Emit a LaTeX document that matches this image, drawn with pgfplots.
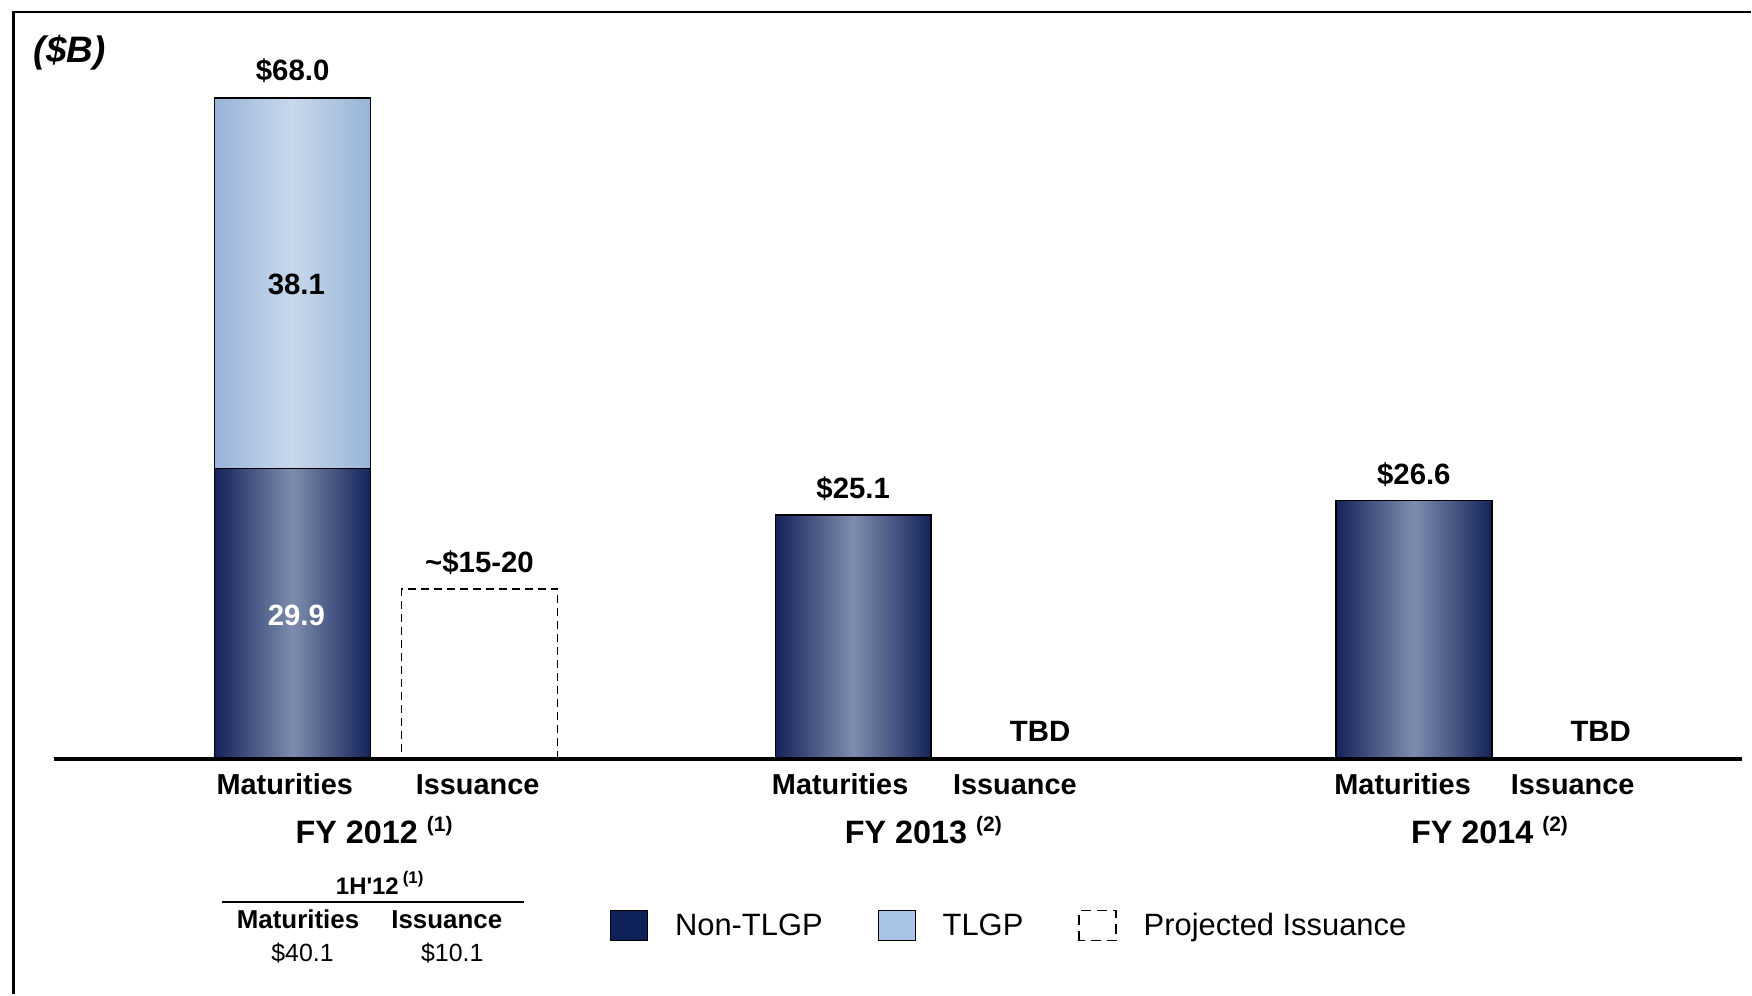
\documentclass[border=0pt]{standalone}
\usepackage{pgfplots}
\pgfplotsset{compat=1.18}
\usepackage{fontspec}
\setmainfont{Liberation Sans}
\definecolor{navyedge}{HTML}{14235A}
\definecolor{navymid}{HTML}{7E8DAE}
\definecolor{lightedge}{HTML}{98B4D8}
\definecolor{lightmid}{HTML}{C8D8EB}
\definecolor{navysolid}{HTML}{0E2158}
\definecolor{lightsolid}{HTML}{A8C3E3}
\pgfplotsset{base/.style={
  x=93.5bp, y=4.864bp,
  xmin=-1.566, xmax=7.803, ymin=-24.18, ymax=78.1,
  hide axis, clip=false, bar width=0.834,
}}
\tikzset{
  navybar/.style={draw=black, line width=0.75bp, left color=navyedge, right color=navyedge, middle color=navymid},
  lightbar/.style={draw=black, line width=0.75bp, left color=lightedge, right color=lightedge, middle color=lightmid},
  val/.style={font=\fontsize{14.75}{16}\selectfont\bfseries, inner sep=0pt, anchor=base},
  cat/.style={font=\fontsize{14.5}{16}\selectfont\bfseries, inner sep=0pt, anchor=base},
  fy/.style={font=\fontsize{16.25}{18}\selectfont\bfseries, inner sep=0pt, anchor=base},
}
\newcommand{\supnote}[1]{\raisebox{0.36em}{\fontsize{10.5}{11}\selectfont\bfseries #1}}
\newcommand{\solidsq}[1]{%
  \pgfsetfillcolor{#1}\pgfsetstrokecolor{black}\pgfsetlinewidth{0.6bp}%
  \pgfpathrectangle{\pgfqpoint{0bp}{-7.5bp}}{\pgfqpoint{18.5bp}{15bp}}%
  \pgfusepath{fill,stroke}}
\begin{document}
\begin{tikzpicture}
\begin{axis}[base, ybar stacked,
  legend columns=3,
  legend style={at={(axis cs:1.696,-17.13)}, anchor=west, draw=none, fill=none,
    inner sep=0pt, font=\fontsize{15.5}{17}\selectfont,
    nodes={inner sep=0pt},
    /tikz/every odd column/.append style={column sep=13.5bp},
    /tikz/every even column/.append style={column sep=27.5bp}},
]
\addplot[navybar, legend image code/.code={\solidsq{navysolid}}]
  coordinates {(0,29.9)};
\addlegendentry{Non-TLGP}
\addplot[lightbar, legend image code/.code={\solidsq{lightsolid}}]
  coordinates {(0,38.1)};
\addlegendentry{TLGP}
\addlegendimage{legend image code/.code={\draw[black, line width=0.75bp, dash pattern=on 5bp off 3bp] (0bp,-7.5bp) rectangle (18.5bp,7.5bp);}}
\addlegendentry{Projected Issuance}
\end{axis}
\begin{axis}[base, ybar]
\addplot[navybar, bar shift=0pt] coordinates {(3,25.1)};
\addplot[navybar, bar shift=0pt] coordinates {(6,26.6)};
\addplot[bar shift=0pt, draw=black, line width=0.75bp, dash pattern=on 4bp off 2.5bp, fill=none] coordinates {(1,17.5)};
\path (axis cs:-1.566,-24.18) rectangle (axis cs:7.803,78.1);
% frame
\draw[line width=1.25bp] (axis cs:-1.494,-24.18) -- (axis cs:-1.494,76.84) -- (axis cs:7.803,76.84);
% baseline
\draw[line width=1.8bp] (axis cs:-1.279,0) -- (axis cs:7.755,0);
% unit
\node[font=\fontsize{18.5}{20}\selectfont\bfseries\itshape, inner sep=0pt, anchor=base west] at (axis cs:-1.387,71.7) {(\$B)};
% value labels
\node[val] at (axis cs:0,69.8) {\$68.0};
\node[val] at (axis cs:0.02,47.85) {38.1};
\node[val, text=white] at (axis cs:0.02,13.75) {29.9};
\node[val] at (axis cs:1,19.2) {\textasciitilde\$15-20};
\node[val] at (axis cs:3,26.8) {\$25.1};
\node[val] at (axis cs:6,28.3) {\$26.6};
\node[val] at (axis cs:4,1.8) {TBD};
\node[val] at (axis cs:7,1.8) {TBD};
% category labels
\node[cat] at (axis cs:-0.042,-3.6) {Maturities};
\node[cat] at (axis cs:0.99,-3.6) {Issuance};
\node[cat] at (axis cs:2.93,-3.6) {Maturities};
\node[cat] at (axis cs:3.865,-3.6) {Issuance};
\node[cat] at (axis cs:5.94,-3.6) {Maturities};
\node[cat] at (axis cs:6.85,-3.6) {Issuance};
\node[fy] at (axis cs:0.436,-8.66) {FY 2012 \supnote{(1)}};
\node[fy] at (axis cs:3.375,-8.66) {FY 2013 \supnote{(2)}};
\node[fy] at (axis cs:6.405,-8.66) {FY 2014 \supnote{(2)}};
% 1H'12 table
\node[font=\fontsize{12}{13}\selectfont\bfseries, inner sep=0pt, anchor=base] at (axis cs:0.466,-13.9) {1H\textquotesingle12\,\raisebox{0.45em}{\fontsize{8.5}{9}\selectfont (1)}};
\draw[line width=1bp] (axis cs:-0.377,-14.7) -- (axis cs:1.236,-14.7);
\node[font=\fontsize{13}{14}\selectfont\bfseries, inner sep=0pt, anchor=base] at (axis cs:0.029,-17.46) {Maturities};
\node[font=\fontsize{13}{14}\selectfont\bfseries, inner sep=0pt, anchor=base] at (axis cs:0.825,-17.46) {Issuance};
\node[font=\fontsize{12.5}{14}\selectfont, inner sep=0pt, anchor=base] at (axis cs:0.053,-20.78) {\$40.1};
\node[font=\fontsize{12.5}{14}\selectfont, inner sep=0pt, anchor=base] at (axis cs:0.854,-20.78) {\$10.1};
\end{axis}
\end{tikzpicture}
\end{document}
